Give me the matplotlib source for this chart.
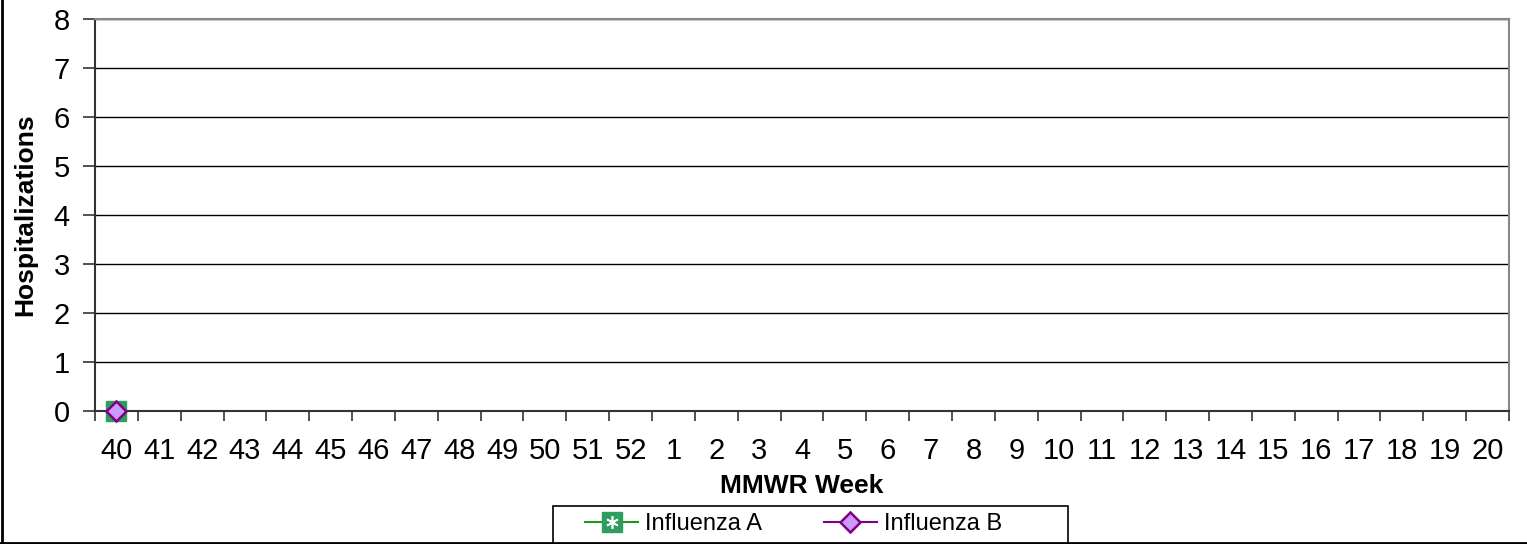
import numpy as np
import matplotlib.pyplot as plt
from matplotlib.patches import Rectangle
from matplotlib.lines import Line2D

plt.rcParams['font.family'] = ['Liberation Sans', 'DejaVu Sans']

# data
weeks = [str(w) for w in list(range(40, 53)) + list(range(1, 21))]
flu_a = [0] + [np.nan] * (len(weeks) - 1)
flu_b = [0] + [np.nan] * (len(weeks) - 1)
y_ticks = list(range(0, 9))

W, H = 1527, 544
fig = plt.figure(figsize=(W / 100, H / 100), dpi=100)
ax = fig.add_axes([95 / W, 1 - 411 / H, 1414 / W, 392 / H])

green_line, green_fill = '#1a9a1a', '#2e9e5e'
purple, lilac = '#800080', '#cc99ff'

x = np.arange(len(weeks))
ax.plot(x, flu_a, color=green_line, lw=1.5, marker='s', ms=14,
        mfc=green_fill, mec=green_fill, zorder=3, clip_on=False)
ax.plot(x, flu_a, ls='none', marker=(6, 2, 0), ms=9, mec='white', mew=1.2,
        zorder=4, clip_on=False)
ax.plot(x, flu_b, color=purple, lw=1.5, marker='D', ms=10,
        mfc=lilac, mec=purple, mew=1.8, zorder=5, clip_on=False)

ax.set_xlim(-0.5, len(weeks) - 0.5)
ax.set_ylim(0, 8)
ax.set_yticks(y_ticks)
ax.set_xticks(x)
ax.set_xticklabels(weeks)
ax.set_xticks(np.arange(-0.5, len(weeks)), minor=True)
ax.tick_params(axis='x', which='major', length=0, labelsize=21, pad=19)
ax.tick_params(axis='x', which='minor', length=7, direction='out', color='#333333', width=1.2)
ax.tick_params(axis='y', length=9, direction='out', labelsize=21, pad=9,
               color='#333333', width=1.2)

ax.grid(axis='y', color='black', lw=1)
ax.set_axisbelow(True)
for s in ['top', 'right']:
    ax.spines[s].set_color('#888888')
    ax.spines[s].set_linewidth(1.5)
for s in ['left', 'bottom']:
    ax.spines[s].set_color('#333333')
    ax.spines[s].set_linewidth(1.5)

ax.set_xlabel('MMWR Week', fontsize=19, fontweight='bold', labelpad=6)
ax.set_ylabel('Hospitalizations', fontsize=19, fontweight='bold', labelpad=12)

# legend
h_a = (Line2D([], [], color=green_line, lw=1.5, marker='s', ms=14, mfc=green_fill, mec=green_fill),
       Line2D([], [], ls='none', marker=(6, 2, 0), ms=9, mec='white', mew=1.2))
h_b = Line2D([], [], color=purple, lw=1.5, marker='D', ms=10, mfc=lilac, mec=purple, mew=1.8)
fig.legend([h_a, h_b], ['Influenza A', 'Influenza B'], loc='center left',
           bbox_to_anchor=(585 / W, 1 - 524 / H), ncol=2, fontsize=17, frameon=False,
           columnspacing=2.6, handlelength=2.25, borderpad=0, borderaxespad=0,
           handletextpad=0.3)
fig.patches.append(Rectangle((553 / W, 0), 515 / W, 38 / H, transform=fig.transFigure,
                             fill=False, edgecolor='black', lw=1.2))

# outer frame (left and bottom edges)
fig.add_artist(Line2D([0.001, 0.001], [0, 1], transform=fig.transFigure, color='black', lw=2))
fig.add_artist(Line2D([0, 1], [0.002, 0.002], transform=fig.transFigure, color='black', lw=2))

fig.savefig('out.png', dpi=100)
